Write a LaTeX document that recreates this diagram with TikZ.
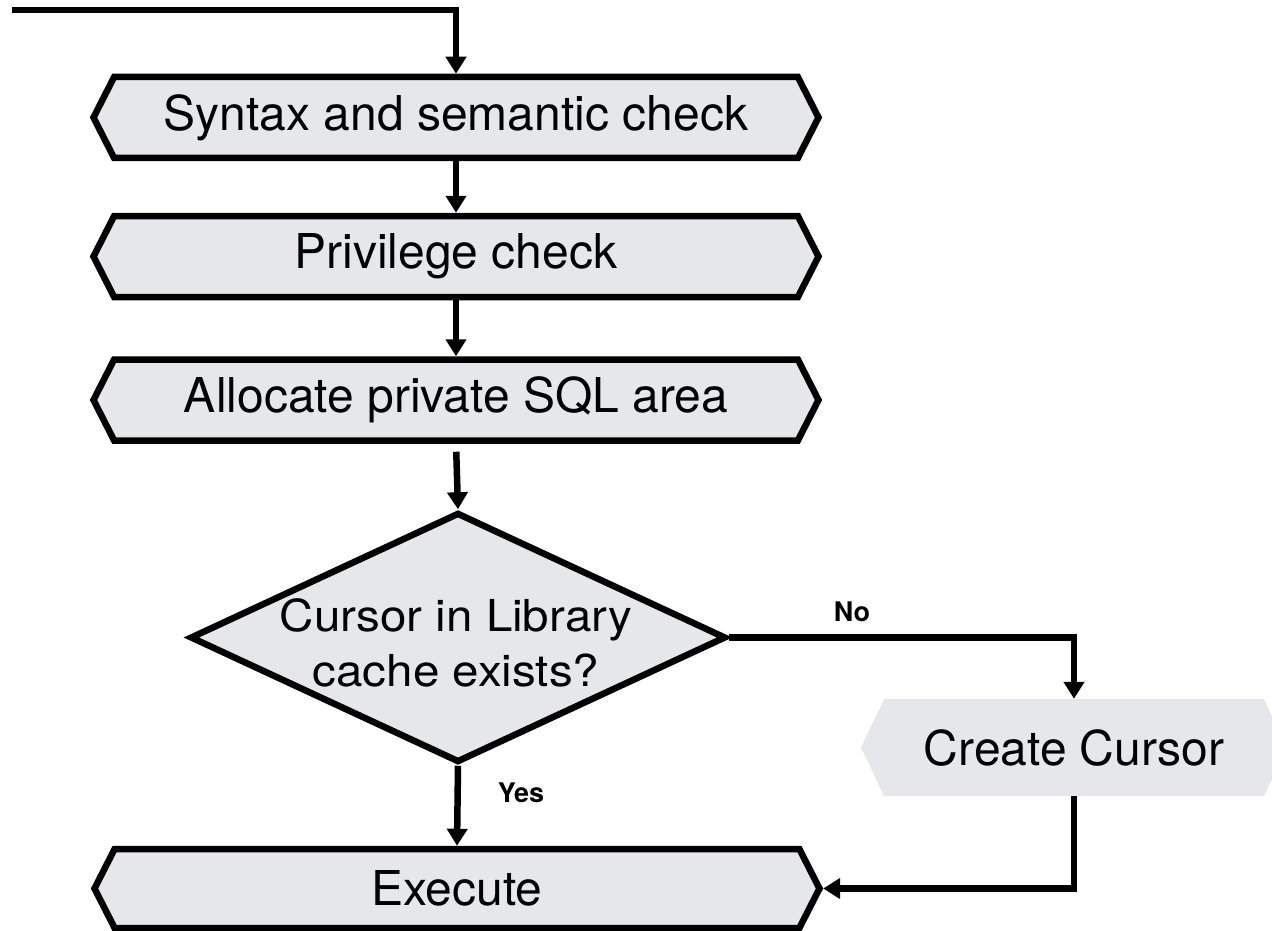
\documentclass[tikz,border=0pt]{standalone}
\usepackage{fontspec}
\setmainfont{TeX Gyre Heros}
\usetikzlibrary{shapes.symbols,shapes.geometric,arrows.meta}
\definecolor{boxfill}{RGB}{230,231,235}
\tikzset{
  hexbox/.style={signal, signal to=west and east, signal pointer angle=126,
    draw=black, line width=6.5pt, fill=boxfill, minimum width=725pt,
    minimum height=81pt, inner sep=0pt, font=\fontsize{48}{52}\selectfont},
  softbox/.style={signal, signal to=west and east, signal pointer angle=129,
    fill=boxfill, minimum width=426pt, minimum height=97pt, inner sep=0pt,
    font=\fontsize{48}{52}\selectfont},
  decision/.style={diamond, draw=black, line width=6.5pt,
    fill=boxfill, minimum width=536pt, minimum height=250pt, inner sep=0pt},
  question/.style={align=center, inner sep=0pt,
    font=\fontsize{44}{55}\selectfont},
  flow/.style={line width=6.5pt, -{Triangle[width=20pt,length=17pt]}},
  branch/.style={font=\bfseries\fontsize{27}{30}\selectfont}
}
\begin{document}
\begin{tikzpicture}[x=1pt,y=-1pt]
\useasboundingbox (0,0) rectangle (1272,931);

% process steps
\node[hexbox] (syn) at (456,117.5) {Syntax and semantic check};
\node[hexbox] (priv) at (456,256.5) {Privilege check};
\node[hexbox] (alloc) at (456,400) {Allocate private SQL area};
% decision
\node[decision] (cur) at (458,637.5) {};
\node[question] (curtext) at (456,643) {\scalebox{1.08}[1]{Cursor in Library}\\\scalebox{1.08}[1]{cache exists?}};
\node[softbox] (create) at (1074,747.5) {Create Cursor};
\node[hexbox, minimum height=79pt] (exec) at (457,888.5) {Execute};

\coordinate (src) at (12,10);

% connectors
\draw[flow] (src) -| (syn.north);
\draw[flow] (syn.south) -- (priv.north);
\draw[flow] (priv.south) -- (alloc.north);
\draw[flow, shorten <=8pt] (alloc.south) -- (cur.north);
\draw[flow] (cur.east) -| (create.north);
\draw[flow] (cur.south) -- (exec.north);
\draw[flow] (create.south) |- (exec.east);

% branch labels
\node[branch] (no) at (852,612) {No};
\node[branch] (yes) at (521,793) {Yes};
\end{tikzpicture}
\end{document}
